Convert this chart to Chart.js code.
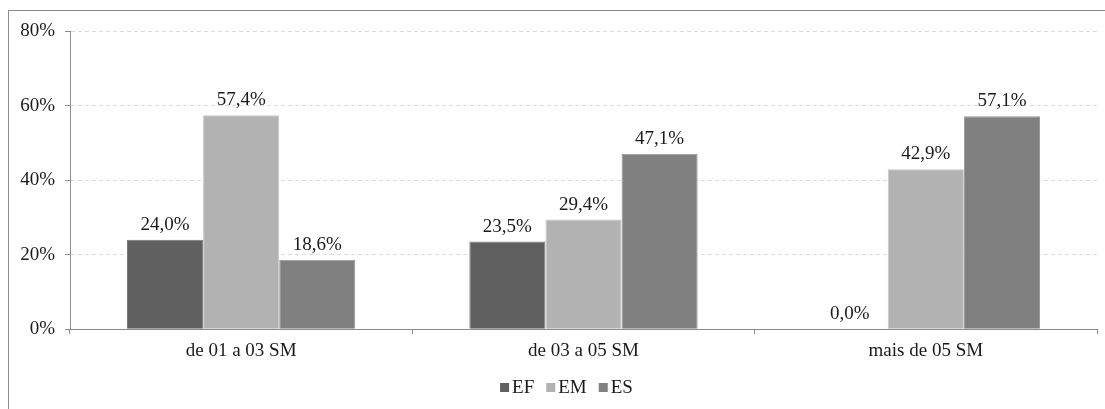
<!DOCTYPE html>
<html>
<head>
<meta charset="utf-8">
<script src="https://cdn.jsdelivr.net/npm/chart.js@4.4.1/dist/chart.umd.min.js"></script>
<style>
  html, body { margin: 0; padding: 0; background: #fff; }
  #wrap { position: relative; width: 1105px; height: 409px; }
</style>
</head>
<body>
<div id="wrap"><canvas id="incomeChart" width="1105" height="409"></canvas></div>
<script>
// Renda familiar por escolaridade (valores em %)
const categories = ['de 01 a 03 SM', 'de 03 a 05 SM', 'mais de 05 SM'];
const seriesNames = ['EF', 'EM', 'ES'];
const efValues = [24.0, 23.5, 0.0];
const emValues = [57.4, 29.4, 42.9];
const esValues = [18.6, 47.1, 57.1];
const yTicks = [0, 20, 40, 60, 80];

const serif = "'Liberation Serif', 'Times New Roman', serif";
const textColor = '#1a1a1a';

// outer frame, cut off at the right and bottom like the source image
const framePlugin = {
    id: 'frame',
    beforeDraw(chart) {
        const ctx = chart.ctx;
        ctx.save();
        ctx.strokeStyle = '#8c8c8c';
        ctx.lineWidth = 1;
        ctx.strokeRect(8.5, 10.5, 2000, 2000);
        ctx.restore();
    }
};

// value labels above each bar (pt-BR decimal comma)
const valueLabels = {
    id: 'valueLabels',
    afterDatasetsDraw(chart) {
        const ctx = chart.ctx;
        ctx.save();
        ctx.font = '19px ' + serif;
        ctx.fillStyle = textColor;
        ctx.textAlign = 'center';
        ctx.textBaseline = 'alphabetic';
        chart.data.datasets.forEach((ds, i) => {
            chart.getDatasetMeta(i).data.forEach((bar, j) => {
                const txt = ds.data[j].toFixed(1).replace('.', ',') + '%';
                ctx.fillText(txt, bar.x, bar.y - 10);
            });
        });
        ctx.restore();
    }
};

// compact Excel-style legend: small square, tight gap, then the name
const smallLegend = {
    id: 'smallLegend',
    afterDraw(chart) {
        const ctx = chart.ctx;
        const box = 9, gap = 3, spacing = 12;
        ctx.save();
        ctx.font = '19px ' + serif;
        const items = chart.data.datasets.map(ds => ({
            text: ds.label, color: ds.backgroundColor, w: box + gap + ctx.measureText(ds.label).width
        }));
        const total = items.reduce((s, it) => s + it.w, 0) + spacing * (items.length - 1);
        let x = chart.width / 2 + 14 - total / 2;
        const y = 393;
        ctx.textBaseline = 'alphabetic';
        ctx.textAlign = 'left';
        items.forEach(it => {
            ctx.fillStyle = it.color;
            ctx.fillRect(x, y - 10, box, box);
            ctx.fillStyle = textColor;
            ctx.fillText(it.text, x + box + gap, y);
            x += it.w + spacing;
        });
        ctx.restore();
    }
};

new Chart(document.getElementById('incomeChart'), {
    type: 'bar',
    data: {
        labels: categories,
        datasets: [
            { label: seriesNames[0], data: efValues, backgroundColor: '#606060', borderColor: '#7a7a7a', borderWidth: 1 },
            { label: seriesNames[1], data: emValues, backgroundColor: '#b2b2b2', borderColor: '#c4c4c4', borderWidth: 1 },
            { label: seriesNames[2], data: esValues, backgroundColor: '#808080', borderColor: '#989898', borderWidth: 1 }
        ]
    },
    options: {
        responsive: false,
        animation: false,
        layout: { padding: { top: 31, right: 8, left: 0, bottom: 42 } },
        datasets: {
            bar: { categoryPercentage: 0.667, barPercentage: 1.0 }
        },
        plugins: {
            tooltip: { enabled: false },
            legend: { display: false }
        },
        scales: {
            x: {
                grid: { drawOnChartArea: false, drawTicks: true, tickLength: 5, tickColor: '#8c8c8c', offset: true },
                border: { color: '#8c8c8c' },
                ticks: { color: textColor, font: { size: 19, family: serif }, padding: 5 }
            },
            y: {
                min: 0,
                max: 80,
                afterBuildTicks(axis) { axis.ticks = yTicks.map(v => ({ value: v })); },
                afterFit(axis) { axis.width = 70; },
                grid: { color: '#dcdcdc', tickColor: '#8c8c8c', tickLength: 5, tickBorderDash: [] },
                border: { color: '#8c8c8c', dash: [4, 3] },
                ticks: {
                    color: textColor,
                    padding: 10,
                    font: { size: 19, family: serif },
                    callback: v => v + '%'
                }
            }
        }
    },
    plugins: [framePlugin, valueLabels, smallLegend]
});
</script>
</body>
</html>
